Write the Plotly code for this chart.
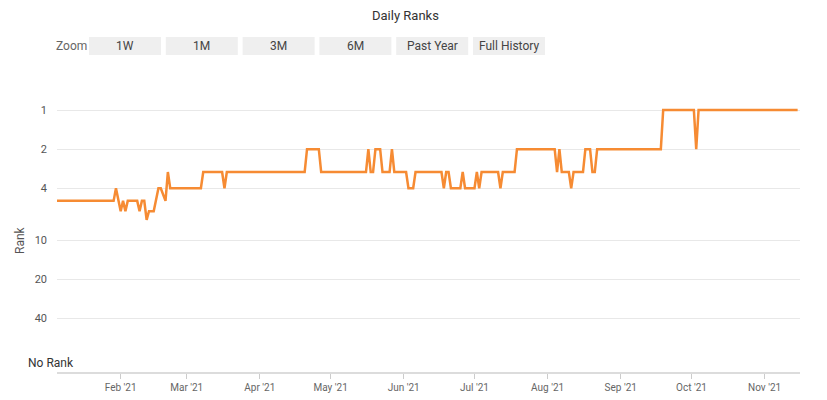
import math
import plotly.graph_objects as go

# ---- data (change points) ----
dates = [
    "2021-01-05", "2021-01-29", "2021-01-30", "2021-02-01", "2021-02-02", "2021-02-03",
    "2021-02-04", "2021-02-08", "2021-02-09", "2021-02-10", "2021-02-11", "2021-02-12",
    "2021-02-13", "2021-02-15", "2021-02-17", "2021-02-18", "2021-02-20", "2021-02-21",
    "2021-02-22", "2021-03-07", "2021-03-08", "2021-03-16", "2021-03-17", "2021-03-18",
    "2021-04-20", "2021-04-21", "2021-04-26", "2021-04-27", "2021-05-16", "2021-05-17",
    "2021-05-18", "2021-05-19", "2021-05-20", "2021-05-22", "2021-05-23", "2021-05-26",
    "2021-05-27", "2021-05-28", "2021-06-02", "2021-06-03", "2021-06-05", "2021-06-06",
    "2021-06-17", "2021-06-18", "2021-06-19", "2021-06-20", "2021-06-21", "2021-06-25",
    "2021-06-26", "2021-06-27", "2021-07-01", "2021-07-02", "2021-07-03", "2021-07-04",
    "2021-07-11", "2021-07-12", "2021-07-13", "2021-07-18", "2021-07-19", "2021-08-04",
    "2021-08-05", "2021-08-06", "2021-08-07", "2021-08-10", "2021-08-11", "2021-08-12",
    "2021-08-16", "2021-08-17", "2021-08-19", "2021-08-20", "2021-08-21", "2021-08-22",
    "2021-09-18", "2021-09-19", "2021-10-02", "2021-10-03", "2021-10-04", "2021-11-15",
]
ranks = [
    5, 5, 4, 6, 5, 6,
    5, 5, 6, 5, 5, 7,
    6, 6, 4, 4, 5, 3,
    4, 4, 3, 3, 4, 3,
    3, 2, 2, 3, 3, 2,
    3, 3, 2, 2, 3, 3,
    2, 3, 3, 4, 4, 3,
    3, 4, 3, 3, 4, 4,
    3, 4, 4, 3, 4, 3,
    3, 4, 3, 3, 2, 2,
    3, 2, 3, 3, 4, 3,
    3, 2, 2, 3, 3, 2,
    2, 1, 1, 2, 1, 1,
]

y_tickvals = [1, 2, 4, 10, 20, 40]
y_ticktext = ["1", "2", "4", "10", "20", "40"]
no_rank_value = 88
zoom_buttons = ["1W", "1M", "3M", "6M", "Past Year", "Full History"]

# ---- layout geometry (page pixels; the page body adds an 8px offset) ----
OFF = 8
PAGE_W, PAGE_H = 827, 400
PLOT_L, PLOT_R, PLOT_T, PLOT_B = 57, 800, 95, 372
W, H = PAGE_W - OFF, PAGE_H - OFF
L = PLOT_L - OFF
R = W - (PLOT_R - OFF)
T = PLOT_T - OFF
B = H - (PLOT_B - OFF)
PW, PH = PLOT_R - PLOT_L, PLOT_B - PLOT_T


def px(x):
    return (x - PLOT_L) / PW


def py(y):
    return (PLOT_B - y) / PH


FONT = "Roboto"

fig = go.Figure()
fig.add_trace(go.Scatter(
    x=dates, y=ranks, mode="lines",
    line=dict(color="#f68b33", width=2.5),
    hoverinfo="x+y", showlegend=False,
))

shapes = []
annotations = []

annotations.append(dict(text="Daily Ranks", xref="paper", yref="paper",
                        x=px(405), y=py(16), showarrow=False,
                        font=dict(family=FONT, size=13, color="#333333"),
                        xanchor="center", yanchor="middle"))
annotations.append(dict(text="Zoom", xref="paper", yref="paper",
                        x=px(71), y=py(46), showarrow=False,
                        font=dict(family=FONT, size=12, color="#666666"),
                        xanchor="center", yanchor="middle"))
btn_left = 89
btn_w = 72
btn_step = 76.8
for i, lab in enumerate(zoom_buttons):
    x0 = btn_left + i * btn_step
    x1 = x0 + btn_w
    shapes.append(dict(type="rect", xref="paper", yref="paper",
                       x0=px(x0), x1=px(x1), y0=py(55), y1=py(37),
                       fillcolor="#efefef", line=dict(width=0), layer="below"))
    annotations.append(dict(text=lab, xref="paper", yref="paper",
                            x=px((x0 + x1) / 2), y=py(46), showarrow=False,
                            font=dict(family=FONT, size=12, color="#444444"),
                            xanchor="center", yanchor="middle"))

annotations.append(dict(text="Rank", xref="paper", yref="paper",
                        x=px(20), y=py(240), showarrow=False, textangle=-90,
                        font=dict(family=FONT, size=12, color="#555555"),
                        xanchor="center", yanchor="middle"))
annotations.append(dict(text="No Rank", xref="paper", yref="y",
                        x=px(26), y=math.log10(no_rank_value), showarrow=False,
                        font=dict(family=FONT, size=12, color="#333333"),
                        xanchor="left", yanchor="middle"))

fig.update_layout(
    width=W, height=H,
    margin=dict(l=L, r=R, t=T, b=B, autoexpand=False),
    paper_bgcolor="white", plot_bgcolor="white",
    font=dict(family=FONT),
    shapes=shapes, annotations=annotations,
    xaxis=dict(
        type="date",
        range=["2021-01-05", "2021-11-16"],
        tick0="2021-02-01", dtick="M1", tickformat="%b '%y",
        showgrid=False, zeroline=False,
        showline=True, linecolor="#dcdcdc", linewidth=2,
        ticks="outside", ticklen=5, tickcolor="#cccccc",
        tickfont=dict(family=FONT, size=10, color="#666666"),
        fixedrange=True,
    ),
    yaxis=dict(
        type="log",
        range=[(PLOT_B - 110) / 130, -15 / 130],
        tickvals=y_tickvals, ticktext=y_ticktext,
        showgrid=True, gridcolor="#e8e8e8", gridwidth=1,
        zeroline=False, showline=False, ticks="",
        ticklabelstandoff=9,
        tickfont=dict(family=FONT, size=11, color="#555555"),
        fixedrange=True,
    ),
)

fig.write_html("out.html")
